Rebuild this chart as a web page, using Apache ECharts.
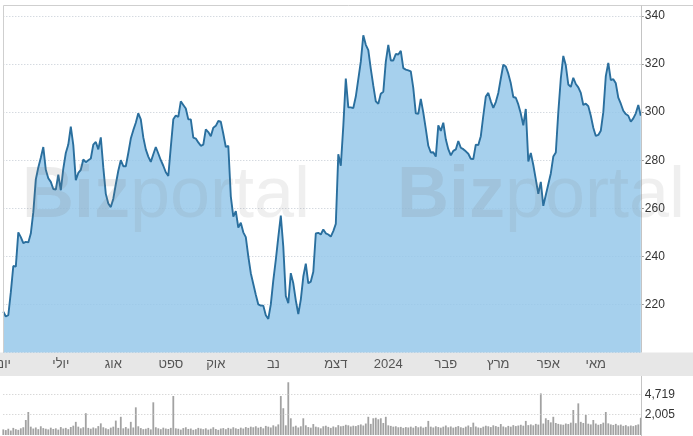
<!DOCTYPE html>
<html><head><meta charset="utf-8">
<script src="https://cdn.jsdelivr.net/npm/echarts@6/dist/echarts.min.js"></script>
<style>html,body{margin:0;padding:0;background:#fff}#c{width:693px;height:436px}</style>
</head><body><div id="c"></div>
<script>
const price = [217,215,215.5,225,236,235.7,250,248,245.5,246,
245.8,249.5,258.4,272,277,281,285.5,276,272.5,271,
268,267.8,274,267.5,276.5,283,286.5,294,286.3,271.7,
274.7,276,280.3,279.2,280,280.7,286.5,287.6,284.5,289.5,
277,266,262,260.5,264,270,275.6,280,277.5,277.5,
283,289,292.5,295.6,299.5,297,289.5,284.5,281.5,279.3,
282.5,285.5,282.8,280,277.7,275,273.5,285.5,297,298.6,
298,304.5,303,301.5,297,297,289.4,289,287.4,286,
286.5,292.8,291.7,290,293.5,294.3,296.3,296,291,285.5,
286,265,256.5,258.8,252,254,250,248,240,233,
228.5,224,220,219.5,219.5,215.5,214,220,230,238.5,
248,257,244,223.5,220.5,233,228.8,221.7,216,222,
231.6,237,228.8,229.5,233.6,249.5,249.8,249.1,251.2,249.6,
249.1,248.2,250.5,253.5,282.5,277.7,294.2,314,302,302,
301.7,306.5,313.7,321,332,328,325.8,318,311,304.5,
303.5,307.7,308.5,321,328,321.5,321.5,324.2,324,325.5,
318.3,317.7,317.4,317,310,299.5,299.3,305.5,299.8,293,
286,283.2,283.3,281.5,294.5,292.2,295.6,288.7,284.6,282,
283.9,284.5,288,285.2,284.6,283.7,282.7,280.6,280.5,286.5,
286.3,290,298.5,306.5,308,304.5,301.8,304.2,308,314,
319.7,319,316,312,306.3,306,303.2,299.4,294.5,301.3,
279.5,283,278,272,266,271,261,265.5,270,274.5,
281.5,283.2,300,314,323.4,319.5,311.5,310.5,314.3,311.7,
310.3,308,303,303.5,302.5,298.5,293.5,290.1,290.5,292.3,
300,315,320.5,313.3,313.7,312,306,303.5,300.6,299.2,
298.5,296,297.4,299.5,303,298.5];

const volume = [1050,1020,1080,1000,1120,1060,1030,1100,1150,1571,
2212,1180,1090,1140,1060,1200,1110,1080,1050,1130,
1070,1100,1040,1160,1090,1120,1060,1164,1230,1450,
1180,1100,1150,2100,1120,1080,1140,1100,1210,1360,
1150,1100,1060,1130,1180,1530,1120,1800,1100,1160,
1090,1450,1140,2700,1200,1110,1060,1080,1120,1050,
3350,1150,1100,1060,1130,1090,1070,1120,4380,1100,
1080,1040,1110,1150,1070,1090,1030,1060,1120,1090,
1060,1100,1040,1080,1150,1070,1030,1090,1110,1060,
1120,1080,1150,1100,1070,1130,1090,1160,1120,1180,
1150,1200,1130,1170,1100,1220,1180,1140,1250,1190,
1300,4380,2600,1250,7900,1690,1180,1230,1140,1200,
1690,1250,1160,1130,1320,1180,1150,1100,1200,1230,
1170,1120,1190,1150,1260,1200,1220,1280,1250,1190,
1230,1210,1260,1300,1240,1350,1800,1330,1690,1730,
1620,1690,1380,1800,1250,1220,1180,1200,1150,1170,
1120,1160,1140,1180,1130,1210,1150,1190,1130,1170,
1510,1180,1140,1200,1160,1130,1180,1240,1150,1190,
1130,1170,1210,1150,1120,1180,1240,1160,1400,1190,
1140,1120,1180,1230,1200,1160,1250,1210,1170,1320,
1190,1150,1220,1180,1260,1210,1240,1280,1230,1510,
1260,1300,1250,1330,1290,4900,1350,1690,1571,1420,
1800,1380,1330,1300,1280,1350,1320,1400,2410,1370,
3200,1450,1380,1945,1340,1300,1571,1350,1280,1320,
1400,2212,1360,1300,1270,1330,1250,1290,1220,1260,
1200,1240,1210,1260,1300,1730];

const monthLabels = ['יוני','יולי','אוג','ספט','אוק','נב','דצמ','2024','פבר','מרץ','אפר','מאי'];
const monthStart = [0,23,44,67,85,108,133,154,177,198,218,237];
const volumeMarks = [4719, 2005];
const categories = price.map((_, i) => 'd' + i);

const FONT = '"Liberation Sans", Arial, sans-serif';
const L = 3.3, R = 693 - 640.8;
const chart = echarts.init(document.getElementById('c'), null, {renderer: 'canvas'});

const wm = (x0, x1) => [
  {type:'text', x:x0, y:197, z:100, silent:true,
   style:{text:'Biz', fontSize:72, fontWeight:'bold', fontFamily:FONT, fill:'rgba(120,120,120,0.15)', verticalAlign:'middle', align:'left'}},
  {type:'text', x:x1, y:197, z:100, silent:true,
   style:{text:'portal', fontSize:72, fontWeight:'normal', fontFamily:FONT, fill:'rgba(120,120,120,0.12)', verticalAlign:'middle', align:'left'}}
];

chart.setOption({
  animation: false,
  grid: [
    {left:L, right:R, top:16, height:336.5, containLabel:false, outerBoundsMode:'none'},
    {left:L, right:R, top:376, height:59, containLabel:false, outerBoundsMode:'none'}
  ],
  xAxis: [
    {type:'category', gridIndex:0, data:categories, boundaryGap:false, z:10,
     axisLine:{show:false}, axisTick:{show:false}, splitLine:{show:false},
     axisLabel:{interval:(i) => monthStart.includes(i),
       formatter:(v, i) => monthLabels[monthStart.indexOf(i)] || '',
       color:'#555', fontSize:13, fontFamily:FONT, margin:5}},
    {type:'category', gridIndex:1, data:categories, boundaryGap:false, show:false}
  ],
  yAxis: [
    {type:'value', gridIndex:0, position:'right', min:200, max:340, interval:20,
     axisLine:{show:false},
     axisTick:{show:true, length:3, lineStyle:{color:'#999'}},
     axisLabel:{showMinLabel:false, color:'#333', fontSize:12, fontFamily:FONT, margin:4},
     splitLine:{show:true, lineStyle:{type:[1,2], color:'#c3cad3', width:1}}},
    {type:'log', gridIndex:1, position:'right', min:826, max:10330,
     axisLine:{show:false}, axisTick:{show:false}, axisLabel:{show:false}, splitLine:{show:false}}
  ],
  series: [
    {type:'line', xAxisIndex:0, yAxisIndex:0, data:price, showSymbol:false, symbol:'none',
     lineStyle:{color:'#2a6f9e', width:1.9}, z:3,
     areaStyle:{color:'rgba(150,200,234,0.85)', opacity:1}},
    {type:'bar', xAxisIndex:1, yAxisIndex:1, data:volume, barWidth:1.8,
     itemStyle:{color:'#a2a2a2'},
     markLine:{symbol:'none', silent:true, animation:false,
       lineStyle:{type:[1,2], color:'#c8c8c8', width:1},
       label:{position:'end', distance:4, color:'#333', fontSize:12, fontFamily:FONT,
         formatter:(p) => Number(p.value).toLocaleString('en-US')},
       data: volumeMarks.map(v => ({yAxis:v}))}}
  ],
  graphic: [
    {type:'rect', z:0, silent:true, shape:{x:0, y:352.5, width:693, height:23.5}, style:{fill:'#e7e7e7'}},
    {type:'polyline', z:50, silent:true, shape:{points:[[3.5,352.5],[3.5,5.5],[693,5.5]]}, style:{stroke:'#cfcfcf', fill:null, lineWidth:1}},
    {type:'line', z:50, silent:true, shape:{x1:641.5, y1:5.5, x2:641.5, y2:352.5}, style:{stroke:'#c4c4c4', lineWidth:1}},
    {type:'line', z:50, silent:true, shape:{x1:641.5, y1:376, x2:641.5, y2:436}, style:{stroke:'#c4c4c4', lineWidth:1}},
    ...wm(22, 130),
    ...wm(397, 505)
  ]
});
</script></body></html>
